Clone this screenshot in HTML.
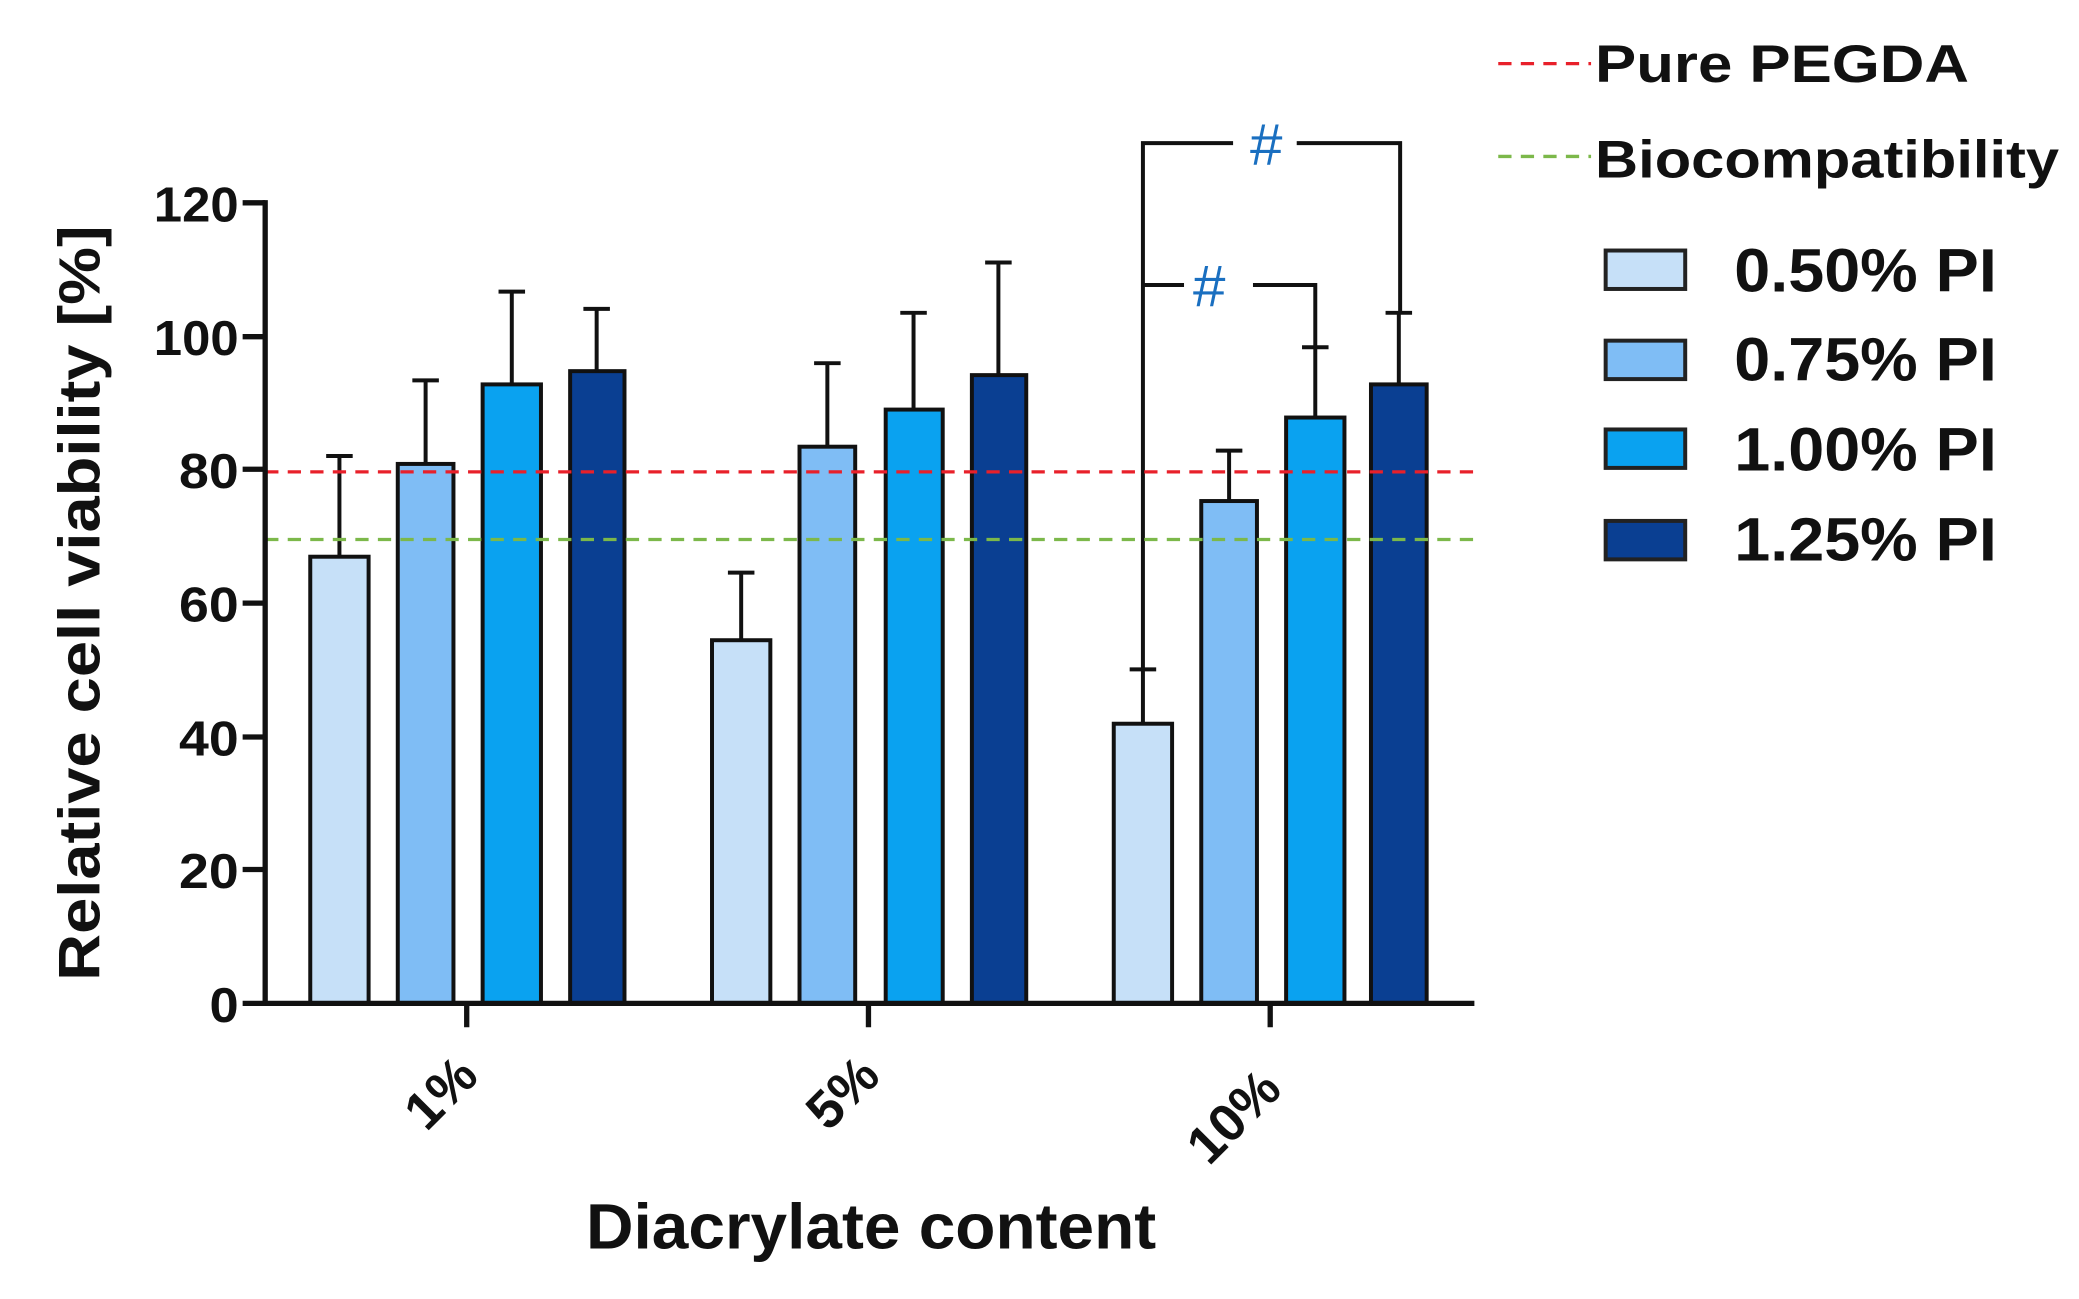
<!DOCTYPE html>
<html><head><meta charset="utf-8"><style>html,body{margin:0;padding:0;background:#fff}svg{display:block}</style></head>
<body>
<svg width="2079" height="1299" viewBox="0 0 1568 980" preserveAspectRatio="none" xmlns="http://www.w3.org/2000/svg" font-family="Liberation Sans, Arial, sans-serif" font-weight="bold">
<rect width="1568" height="980" fill="#fff"/>
<g stroke="#111" stroke-width="3">
<rect x="234" y="420" width="44" height="337" fill="#c6e0f8"/>
<rect x="300" y="350" width="42" height="407" fill="#7fbdf5"/>
<rect x="364" y="290" width="44" height="467" fill="#0aa2f0"/>
<rect x="430" y="280" width="41" height="477" fill="#0a3f92"/>
<rect x="537" y="483" width="44" height="274" fill="#c6e0f8"/>
<rect x="603" y="337" width="42" height="420" fill="#7fbdf5"/>
<rect x="668" y="309" width="43" height="448" fill="#0aa2f0"/>
<rect x="733" y="283" width="41" height="474" fill="#0a3f92"/>
<rect x="840" y="546" width="44" height="211" fill="#c6e0f8"/>
<rect x="906" y="378" width="42" height="379" fill="#7fbdf5"/>
<rect x="970" y="315" width="44" height="442" fill="#0aa2f0"/>
<rect x="1034" y="290" width="42" height="467" fill="#0a3f92"/>
</g>
<g stroke="#111" stroke-width="3" fill="none">
<path d="M256 420V344M246 344H266"/>
<path d="M321 350V287M311 287H331"/>
<path d="M386 290V220M376 220H396"/>
<path d="M450 280V233M440 233H460"/>
<path d="M559 483V432M549 432H569"/>
<path d="M624 337V274M614 274H634"/>
<path d="M689 309V236M679 236H699"/>
<path d="M753 283V198M743 198H763"/>
<path d="M862 546V505M852 505H872"/>
<path d="M927 378V340M917 340H937"/>
<path d="M992 315V262M982 262H1002"/>
<path d="M1055 290V236M1045 236H1065"/>
<path d="M862 505V108H930M978 108H1056V236"/>
<path d="M862 215H893M945 215H992V262"/>
</g>
<text x="955" y="124" font-size="44" font-weight="normal" fill="#1a6fc0" text-anchor="middle">#</text>
<text x="912" y="231" font-size="44" font-weight="normal" fill="#1a6fc0" text-anchor="middle">#</text>
<line x1="200" y1="356" x2="1112" y2="356" stroke="#e8202a" stroke-width="2.5" stroke-dasharray="10,7"/>
<line x1="200" y1="407" x2="1112" y2="407" stroke="#7cb84a" stroke-width="2.5" stroke-dasharray="10,7"/>
<g stroke="#111" stroke-width="4">
<line x1="200" y1="151" x2="200" y2="759"/>
<line x1="198" y1="757" x2="1112" y2="757"/>
<path d="M183 153H200M183 254H200M183 354H200M183 455H200M183 556H200M183 656H200M183 757H200"/>
<path d="M352 757V775M655 757V775M958 757V775"/>
</g>
<g font-size="37" text-anchor="end" fill="#111">
<text x="180" y="167" textLength="64" lengthAdjust="spacingAndGlyphs">120</text>
<text x="180" y="268" textLength="64" lengthAdjust="spacingAndGlyphs">100</text>
<text x="180" y="368" textLength="45" lengthAdjust="spacingAndGlyphs">80</text>
<text x="180" y="469" textLength="45" lengthAdjust="spacingAndGlyphs">60</text>
<text x="180" y="570" textLength="45" lengthAdjust="spacingAndGlyphs">40</text>
<text x="180" y="670" textLength="45" lengthAdjust="spacingAndGlyphs">20</text>
<text x="180" y="771" textLength="22" lengthAdjust="spacingAndGlyphs">0</text>
</g>
<text transform="translate(75,455) rotate(-90)" font-size="44" text-anchor="middle" fill="#111" textLength="570" lengthAdjust="spacingAndGlyphs">Relative cell viability [%]</text>
<g font-size="40" fill="#111" text-anchor="middle">
<text transform="translate(342,834) rotate(-45)">1%</text>
<text transform="translate(645,834) rotate(-45)">5%</text>
<text transform="translate(940,852) rotate(-45)">10%</text>
</g>
<text x="657" y="942" font-size="48" text-anchor="middle" fill="#111" textLength="430" lengthAdjust="spacingAndGlyphs">Diacrylate content</text>
<line x1="1130" y1="48" x2="1200" y2="48" stroke="#e8202a" stroke-width="2.5" stroke-dasharray="10,7"/>
<line x1="1130" y1="118" x2="1200" y2="118" stroke="#7cb84a" stroke-width="2.5" stroke-dasharray="10,7"/>
<text x="1203" y="62" font-size="40" fill="#111" textLength="282" lengthAdjust="spacingAndGlyphs">Pure PEGDA</text>
<text x="1203" y="134" font-size="40" fill="#111" textLength="350" lengthAdjust="spacingAndGlyphs">Biocompatibility</text>
<g stroke="#222" stroke-width="3">
<rect x="1211" y="189" width="60" height="29" fill="#c6e0f8"/>
<rect x="1211" y="257" width="60" height="29" fill="#7fbdf5"/>
<rect x="1211" y="324" width="60" height="29" fill="#0aa2f0"/>
<rect x="1211" y="393" width="60" height="29" fill="#0a3f92"/>
</g>
<g font-size="46" fill="#111">
<text x="1308" y="220" textLength="198" lengthAdjust="spacingAndGlyphs">0.50% PI</text>
<text x="1308" y="287" textLength="198" lengthAdjust="spacingAndGlyphs">0.75% PI</text>
<text x="1308" y="355" textLength="198" lengthAdjust="spacingAndGlyphs">1.00% PI</text>
<text x="1308" y="423" textLength="198" lengthAdjust="spacingAndGlyphs">1.25% PI</text>
</g>
</svg>
</body></html>
